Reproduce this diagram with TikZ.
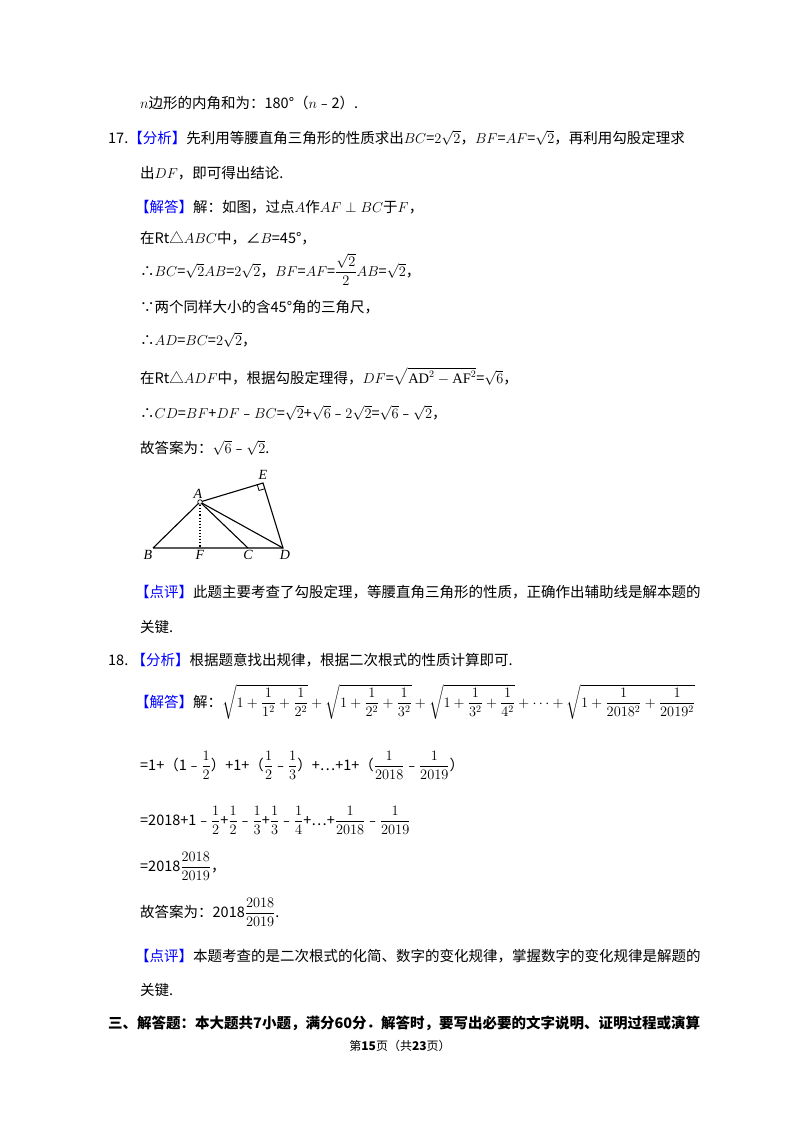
\documentclass[tikz,border=0pt]{standalone}
\usetikzlibrary{calc}
\usepackage{amsmath}
\usepackage{fontspec}
\setmainfont{Liberation Serif}
\newfontfamily\cjk{Noto Sans CJK SC}
\newcommand{\kb}[1]{\textcolor{blue}{【#1】}}
\begin{document}
\begin{tikzpicture}[x=1pt,y=-1pt,
  t/.style={anchor=base west,inner sep=0pt,font=\cjk\fontsize{14.5}{17}\selectfont},
  lbl/.style={font=\itshape\fontsize{14}{16}\selectfont,inner sep=1pt},
  seg/.style={line width=1.1pt}]
\useasboundingbox (0,0) rectangle (800,1132);
\fill[white] (0,0) rectangle (800,1132);
\node[t] (l1) at (140,108) {$n$边形的内角和为：180°（$n$﹣2）.};
\node[t] (l2) at (108,143) {17.\kb{分析}先利用等腰直角三角形的性质求出$BC$=$2\sqrt{2}$，$BF$=$AF$=$\sqrt{2}$，再利用勾股定理求};
\node[t] (l3) at (140,178) {出$DF$，即可得出结论.};
\node[t] (l4) at (135,212) {\kb{解答}解：如图，过点$A$作$AF\perp BC$于$F$，};
\node[t] (l5) at (140,243) {在Rt△$ABC$中，∠$B$=45°，};
\node[t] (l6) at (140,276) {∴$BC$=$\sqrt{2}AB$=$2\sqrt{2}$，$BF$=$AF$=$\dfrac{\sqrt{2}}{2}AB$=$\sqrt{2}$，};
\node[t] (l7) at (140,312) {∵两个同样大小的含45°角的三角尺，};
\node[t] (l8) at (140,345) {∴$AD$=$BC$=$2\sqrt{2}$，};
\node[t] (l9) at (140,383) {在Rt△$ADF$中，根据勾股定理得，$DF$=$\sqrt{\mathrm{AD}^2-\mathrm{AF}^2}$=$\sqrt{6}$，};
\node[t] (l10) at (140,418) {∴$CD$=$BF$+$DF$﹣$BC$=$\sqrt{2}$+$\sqrt{6}$﹣$2\sqrt{2}$=$\sqrt{6}$﹣$\sqrt{2}$，};
\node[t] (l11) at (140,453) {故答案为：$\sqrt{6}$﹣$\sqrt{2}$.};
% figure
\coordinate (B) at (153,548); \coordinate (F) at (200,548);
\coordinate (C) at (248,548); \coordinate (D) at (283,548);
\coordinate (A) at (200,502); \coordinate (E) at (263,483);
\draw[seg] (B) -- (D) -- (E) -- (A) -- (B);
\draw[seg] (A) -- (C); \draw[seg] (A) -- (D);
\draw[seg,dotted,line width=1.6pt] (A) -- (F);
\draw[line width=0.7pt,fill=white] (A) circle (2.3pt);
\coordinate (P1) at ($(E)!6pt!(A)$); \coordinate (P2) at ($(E)!6pt!(D)$);
\draw[line width=0.8pt] (P1) -- ($(P1)+(P2)-(E)$) -- (P2);
\node[lbl,anchor=south] (nA) at (198,500) {A};
\node[lbl,anchor=south] (nE) at (263,481) {E};
\node[lbl,anchor=north] (nB) at (148,549) {B};
\node[lbl,anchor=north] (nF) at (200,549) {F};
\node[lbl,anchor=north] (nC) at (248,549) {C};
\node[lbl,anchor=north] (nD) at (285,549) {D};
\node[t] (l12) at (135,597) {\kb{点评}此题主要考查了勾股定理，等腰直角三角形的性质，正确作出辅助线是解本题的};
\node[t] (l13) at (140,632) {关键.};
\node[t] (l14) at (108,665) {18.\ \kb{分析}根据题意找出规律，根据二次根式的性质计算即可.};
\node[t] (l15) at (135,707) {\kb{解答}解：$\sqrt{1+\dfrac{1}{1^2}+\dfrac{1}{2^2}}+\sqrt{1+\dfrac{1}{2^2}+\dfrac{1}{3^2}}+\sqrt{1+\dfrac{1}{3^2}+\dfrac{1}{4^2}}+\cdots+\sqrt{1+\dfrac{1}{2018^2}+\dfrac{1}{2019^2}}$};
\node[t] (l16) at (140,770) {=1+（1﹣$\dfrac{1}{2}$）+1+（$\dfrac{1}{2}$﹣$\dfrac{1}{3}$）+…+1+（$\dfrac{1}{2018}$﹣$\dfrac{1}{2019}$）};
\node[t] (l17) at (140,825) {=2018+1﹣$\dfrac{1}{2}$+$\dfrac{1}{2}$﹣$\dfrac{1}{3}$+$\dfrac{1}{3}$﹣$\dfrac{1}{4}$+…+$\dfrac{1}{2018}$﹣$\dfrac{1}{2019}$};
\node[t] (l18) at (140,871) {=2018$\dfrac{2018}{2019}$，};
\node[t] (l19) at (140,917) {故答案为：2018$\dfrac{2018}{2019}$.};
\node[t] (l20) at (135,961) {\kb{点评}本题考查的是二次根式的化简、数字的变化规律，掌握数字的变化规律是解题的};
\node[t] (l21) at (140,995) {关键.};
\node[t,font=\cjk\bfseries\fontsize{14.5}{17}\selectfont] (l22) at (108,1028) {三、解答题：本大题共7小题，满分60分．解答时，要写出必要的文字说明、证明过程或演算};
\node[t,anchor=base,font=\cjk\fontsize{12}{14}\selectfont] (ft) at (400,1050) {第\textbf{15}页（共\textbf{23}页）};
\end{tikzpicture}
\end{document}
